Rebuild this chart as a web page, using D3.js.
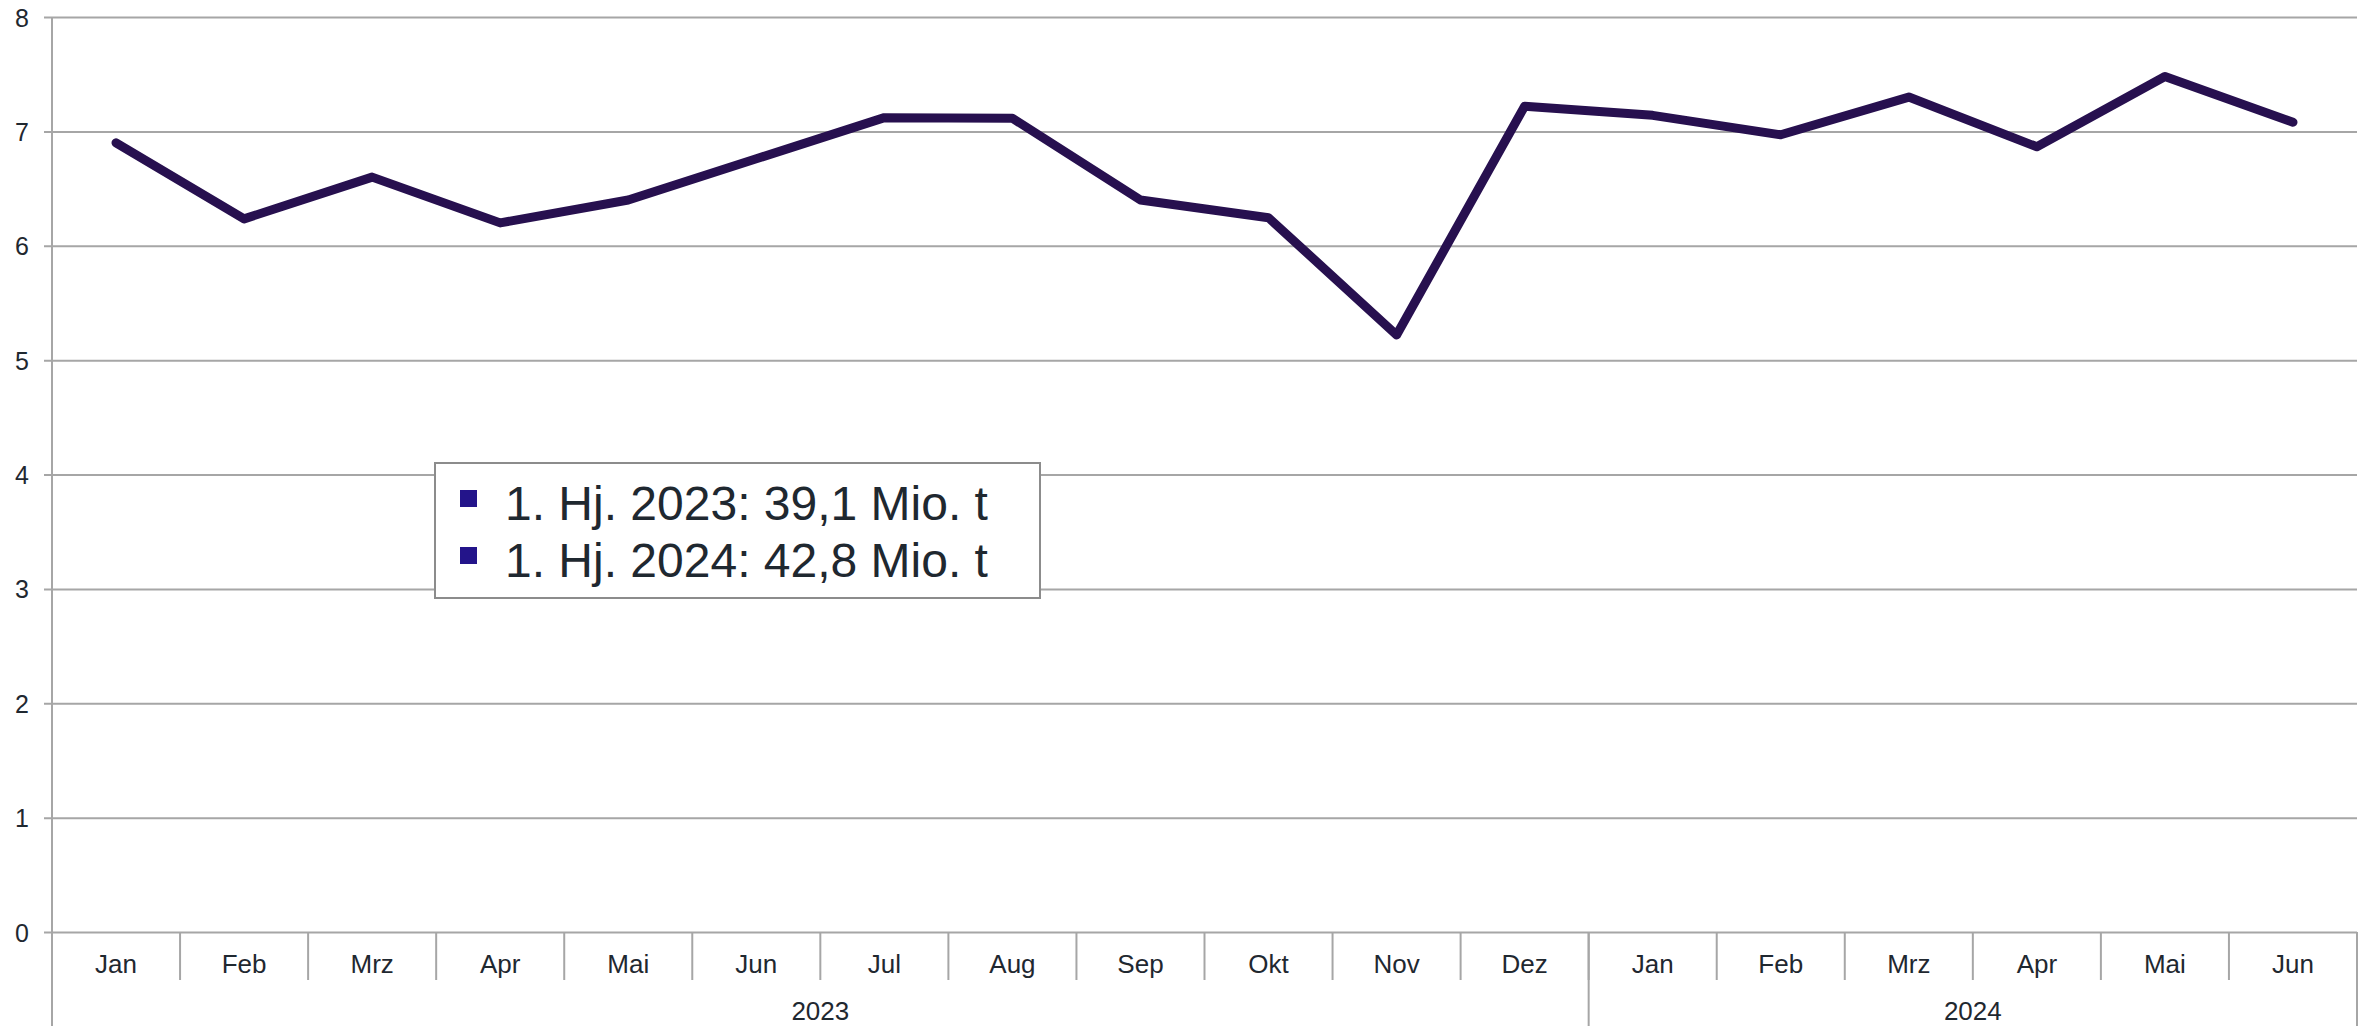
<!DOCTYPE html>
<html>
<head>
<meta charset="utf-8">
<script src="https://cdn.jsdelivr.net/npm/d3@7"></script>
<style>
  html, body { margin: 0; padding: 0; background: #fff; }
  svg { display: block; font-family: "Liberation Sans", Arial, sans-serif; }
</style>
</head>
<body>
<svg id="chart" width="2369" height="1026"></svg>
<script>
// ---- data ----
const months = ["Jan","Feb","Mrz","Apr","Mai","Jun","Jul","Aug","Sep","Okt","Nov","Dez",
                "Jan","Feb","Mrz","Apr","Mai","Jun"];
const years = ["2023", "2024"];
const yearMonthCounts = [12, 6];
const values = [6.90, 6.235, 6.60, 6.20, 6.40, 6.76, 7.12, 7.115, 6.40, 6.245, 5.22, 7.22,
                7.14, 6.97, 7.30, 6.865, 7.48, 7.08];
const yTicks = [0, 1, 2, 3, 4, 5, 6, 7, 8];
const legendLabels = ["1. Hj. 2023: 39,1 Mio. t", "1. Hj. 2024: 42,8 Mio. t"];

// ---- layout ----
const W = 2369, H = 1026;
const mLeft = 52, mRight = 2357, mTop = 17, mBottom = 932;
const gridColor = "#a6a6a6";
const textColor = "#1f2830";

const svg = d3.select("#chart");

const keys = months.map((m, i) => i);
const x = d3.scaleBand().domain(keys).range([mLeft, mRight]).padding(0);
const y = d3.scaleLinear().domain([0, 8]).range([mBottom, mTop]);

// gridlines + y labels
const yAxis = d3.axisLeft(y)
  .tickValues(yTicks)
  .tickSize(-(mRight - 44))
  .tickPadding(15)
  .tickFormat(d3.format("d"));
const gy = svg.append("g").attr("transform", `translate(44,0)`).call(yAxis);
gy.select(".domain").remove();
gy.selectAll(".tick line").attr("stroke", gridColor).attr("stroke-width", 2);
gy.selectAll(".tick text")
  .attr("fill", textColor)
  .attr("font-size", 25)
  .attr("font-family", "Liberation Sans, Arial, sans-serif")
  .attr("dy", "0.36em");

// vertical y axis line
svg.append("line")
  .attr("x1", mLeft).attr("x2", mLeft)
  .attr("y1", mTop).attr("y2", H)
  .attr("stroke", gridColor).attr("stroke-width", 2);

// month tick separators
svg.append("g").selectAll("line")
  .data(keys.slice(1).concat([keys.length]))
  .join("line")
  .attr("x1", d => d < keys.length ? x(d) : mRight)
  .attr("x2", d => d < keys.length ? x(d) : mRight)
  .attr("y1", mBottom).attr("y2", 980)
  .attr("stroke", gridColor).attr("stroke-width", 2);

// month labels via axis
const xAxis = d3.axisBottom(x).tickSize(0).tickPadding(0).tickFormat(i => months[i]);
const gx = svg.append("g").attr("transform", `translate(0,${mBottom})`).call(xAxis);
gx.select(".domain").remove();
gx.selectAll(".tick text")
  .attr("fill", textColor)
  .attr("font-size", 26)
  .attr("font-family", "Liberation Sans, Arial, sans-serif")
  .attr("y", 0)
  .attr("dy", 41);

// year groups
let start = 0;
const groups = yearMonthCounts.map((c, i) => {
  const g = { year: years[i], s: start, e: start + c };
  start += c;
  return g;
});
groups.forEach(g => {
  const x0 = x(g.s);
  const x1 = g.e < keys.length ? x(g.e) : mRight;
  svg.append("line")
    .attr("x1", x1).attr("x2", x1)
    .attr("y1", mBottom).attr("y2", H)
    .attr("stroke", gridColor).attr("stroke-width", 2);
  svg.append("text")
    .attr("x", (x0 + x1) / 2)
    .attr("y", 1020)
    .attr("text-anchor", "middle")
    .attr("fill", textColor)
    .attr("font-size", 26)
    .text(g.year);
});

// line
const line = d3.line()
  .x((d, i) => x(i) + x.bandwidth() / 2)
  .y(d => y(d));
svg.append("path")
  .datum(values)
  .attr("d", line)
  .attr("fill", "none")
  .attr("stroke", "#27104f")
  .attr("stroke-width", 9)
  .attr("stroke-linejoin", "round")
  .attr("stroke-linecap", "round");

// legend
const lg = svg.append("g");
lg.append("rect")
  .attr("x", 435).attr("y", 463)
  .attr("width", 605).attr("height", 135)
  .attr("fill", "#fff")
  .attr("stroke", "#8c8c8c")
  .attr("stroke-width", 2);
legendLabels.forEach((t, i) => {
  lg.append("rect")
    .attr("x", 460).attr("y", 490 + i * 57)
    .attr("width", 17).attr("height", 17)
    .attr("fill", "#23148a");
  lg.append("text")
    .attr("x", 505).attr("y", 520 + i * 57)
    .attr("fill", textColor)
    .attr("font-size", 48)
    .text(t);
});
</script>
</body>
</html>
